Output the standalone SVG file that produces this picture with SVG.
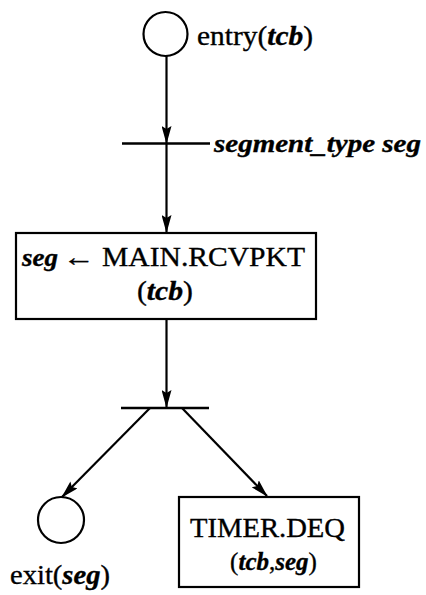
<svg xmlns="http://www.w3.org/2000/svg" width="426" height="595" viewBox="0 0 426 595">
  <style>
    .shape { fill: none; stroke: #000; stroke-width: 2.2; }
    .bar { stroke: #000; stroke-width: 2.6; fill: none; }
    .edge { stroke: #000; stroke-width: 2.2; fill: none; marker-end: url(#head); }
    .txt { font-family: "Liberation Serif", "Times New Roman", serif; font-size: 26px; fill: #000; stroke: #000; stroke-width: 0.35; }
    .big { font-size: 28px; }
    .small { font-size: 25px; }
    .it { font-style: italic; font-weight: bold; }
  </style>
  <defs>
    <marker id="head" viewBox="0 0 18 10" refX="17" refY="5" markerWidth="18" markerHeight="10" markerUnits="userSpaceOnUse" orient="auto">
      <path d="M0,0 L18,5 L0,10 L3,5 z" fill="#000"/>
    </marker>
  </defs>
  <rect width="426" height="595" fill="#fff"/>

  <!-- connectors -->
  <g id="connectors">
    <line class="edge" x1="166.5" y1="56" x2="166.5" y2="143"/>
    <line class="edge" x1="166.5" y1="143" x2="166.5" y2="232"/>
    <line class="edge" x1="166.5" y1="319" x2="166.5" y2="407"/>
    <line class="edge" x1="150" y1="408" x2="62" y2="497"/>
    <line class="edge" x1="182" y1="408" x2="267" y2="496"/>
  </g>

  <!-- entry place -->
  <g id="entry">
    <circle class="shape" cx="165.5" cy="34" r="22"/>
    <text class="txt big" x="197" y="45" textLength="116" lengthAdjust="spacingAndGlyphs">entry(<tspan class="it">tcb</tspan>)</text>
  </g>

  <!-- declaration transition -->
  <g id="declare">
    <line class="bar" x1="122" y1="143.5" x2="210" y2="143.5"/>
    <text class="txt it" x="214" y="152" textLength="207" lengthAdjust="spacingAndGlyphs">segment_type seg</text>
  </g>

  <!-- receive call -->
  <g id="rcvpkt">
    <rect class="shape" x="16" y="233" width="300" height="86"/>
    <text class="txt it" x="22" y="266" textLength="36" lengthAdjust="spacingAndGlyphs">seg</text>
    <text class="txt" x="63" y="266" textLength="32" lengthAdjust="spacingAndGlyphs" font-family="DejaVu Serif, serif">←</text>
    <text class="txt big" x="102" y="266" textLength="203" lengthAdjust="spacingAndGlyphs">MAIN.RCVPKT</text>
    <text class="txt big" x="137" y="300" textLength="56" lengthAdjust="spacingAndGlyphs">(<tspan class="it">tcb</tspan>)</text>
  </g>

  <!-- fork transition -->
  <g id="fork">
    <line class="bar" x1="121" y1="408" x2="209" y2="408"/>
  </g>

  <!-- exit place -->
  <g id="exit">
    <circle class="shape" cx="61" cy="520" r="23"/>
    <text class="txt big" x="10" y="584" textLength="100" lengthAdjust="spacingAndGlyphs">exit(<tspan class="it">seg</tspan>)</text>
  </g>

  <!-- timer dequeue call -->
  <g id="timer">
    <rect class="shape" x="179" y="497" width="180" height="90"/>
    <text class="txt big" x="190" y="537" textLength="155" lengthAdjust="spacingAndGlyphs">TIMER.DEQ</text>
    <text class="txt small" x="273.5" y="570" text-anchor="middle">(<tspan class="it">tcb</tspan>,<tspan class="it">seg</tspan>)</text>
  </g>
</svg>
